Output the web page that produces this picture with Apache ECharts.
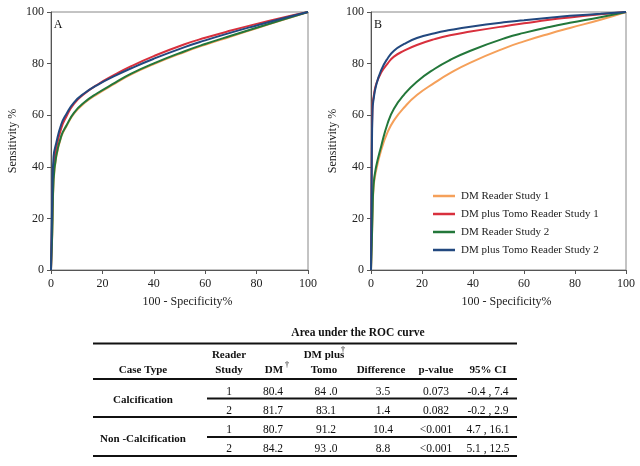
<!DOCTYPE html>
<html>
<head>
<meta charset="utf-8">
<script src="https://cdn.jsdelivr.net/npm/echarts@6/dist/echarts.min.js"></script>
<style>html,body{margin:0;padding:0;background:#fff}#c{width:640px;height:466px}</style>
</head>
<body>
<div id="c"></div>
<script>
// ---------- Data ----------
const seriesNames = ['DM Reader Study 1', 'DM plus Tomo Reader Study 1', 'DM Reader Study 2', 'DM plus Tomo Reader Study 2'];
const seriesColors = ['#F5A05A', '#D8303D', '#23773A', '#22487F'];
const axisTicks = [0, 20, 40, 60, 80, 100];

// Panel A (Calcification): 100 - specificity (%) and sensitivity (%)
const fprA = [0, 0.5, 1, 2, 4, 6, 9, 13, 18, 25, 31, 40, 52, 60, 70, 80, 90, 100];
const dmStudy1A     = [0, 14, 34, 43.6, 51.7, 55.7, 60.7, 64.7, 68.2, 72.3, 75.7, 79.8, 84.5, 87.3, 90.5, 93.7, 96.9, 100];
const dmTomoStudy1A = [0, 22, 40, 47, 55, 59.5, 64.5, 68.3, 71.8, 75.8, 78.9, 82.9, 87.5, 90, 92.8, 95.4, 97.8, 100];
const dmStudy2A     = [0, 15, 35, 44, 52, 56, 61, 65, 68.5, 72.6, 76, 80.1, 84.8, 87.6, 90.8, 93.9, 97, 100];
const dmTomoStudy2A = [0, 30, 44, 49, 56.5, 60.5, 65, 68.5, 71.7, 75.3, 78.1, 81.9, 86.4, 89, 92, 94.8, 97.5, 100];

// Panel B (Non-calcification)
const fprB = [0, 0.3, 0.6, 1, 2, 4, 6.5, 9, 13, 18, 25, 31, 39, 53, 60, 70, 78, 90, 100];
const dmStudy1B     = [0, 10, 21, 32, 38.5, 46.5, 53.4, 58, 63, 67.8, 72.6, 76.3, 80.4, 86.2, 88.6, 91.6, 93.8, 97, 100];
const dmTomoStudy1B = [0, 45, 64, 67, 72, 76.5, 80, 82.7, 85, 87.2, 89.5, 91, 92.4, 94.6, 95.6, 97, 97.9, 99.1, 100];
const dmStudy2B     = [0, 10, 22, 33, 40, 48, 56.8, 62.5, 68, 73, 78, 81.4, 85, 90, 91.9, 94.2, 95.8, 98, 100];
const dmTomoStudy2B = [0, 40, 62, 66, 71.5, 77.5, 82, 85, 87.6, 89.9, 91.8, 93, 94.3, 96.1, 96.8, 97.8, 98.5, 99.3, 100];

// Table: Area under the ROC curve
const caseTypes = ['Calcification', 'Non -Calcification'];
const readerStudy = ['1', '2', '1', '2'];
const aucDM = ['80.4', '81.7', '80.7', '84.2'];
const aucDMTomo = ['84 .0', '83.1', '91.2', '93 .0'];
const aucDifference = ['3.5', '1.4', '10.4', '8.8'];
const pValues = ['0.073', '0.082', '<0.001', '<0.001'];
const ci95 = ['-0.4 , 7.4', '-0.2 , 2.9', '4.7 , 16.1', '5.1 , 12.5'];

// ---------- Chart ----------
const FONT = '"Liberation Serif", "DejaVu Serif", serif';
const chart = echarts.init(document.getElementById('c'), null, {renderer: 'canvas'});

function pairs(xs, ys) { return xs.map((x, i) => [x, ys[i]]); }

const panelA = [dmStudy1A, dmTomoStudy1A, dmStudy2A, dmTomoStudy2A];
const panelB = [dmStudy1B, dmTomoStudy1B, dmStudy2B, dmTomoStudy2B];

const series = [];
[[fprA, panelA, 0], [fprB, panelB, 1]].forEach(([xs, ys, gi]) => {
  ys.forEach((arr, k) => {
    series.push({
      type: 'line', name: seriesNames[k], xAxisIndex: gi, yAxisIndex: gi,
      data: pairs(xs, arr), symbol: 'none', showSymbol: false, smooth: 0.5,
      lineStyle: {width: 2, color: seriesColors[k]}, itemStyle: {color: seriesColors[k]},
      animation: false, silent: true
    });
  });
});

function xAx(gi) {
  return {
    gridIndex: gi, type: 'value', min: axisTicks[0], max: axisTicks[axisTicks.length - 1], interval: 20,
    name: '100 - Specificity%', nameLocation: 'middle', nameGap: 26,
    nameTextStyle: {fontFamily: FONT, fontSize: 12, color: '#222', padding: [0, 0, 0, 16]},
    axisLine: {lineStyle: {color: '#555', width: 1}},
    axisTick: {show: true, length: 4, lineStyle: {color: '#555'}},
    axisLabel: {fontFamily: FONT, fontSize: 12, color: '#222', margin: 8},
    splitLine: {show: false}
  };
}
function yAx(gi) {
  return {
    gridIndex: gi, type: 'value', min: axisTicks[0], max: axisTicks[axisTicks.length - 1], interval: 20,
    name: 'Sensitivity %', nameLocation: 'middle', nameGap: 32, nameRotate: 90,
    nameTextStyle: {fontFamily: FONT, fontSize: 12, color: '#222'},
    axisLine: {show: true, lineStyle: {color: '#555', width: 1}},
    axisTick: {show: true, length: 4, lineStyle: {color: '#555'}},
    axisLabel: {fontFamily: FONT, fontSize: 12, color: '#222', margin: 7},
    splitLine: {show: false}
  };
}

// table graphics
const g = [];
const tFont = (w, s) => ({fontFamily: FONT, fontSize: s, fontWeight: w, fill: '#111'});
function txt(t, x, y, w, s, align) {
  g.push({type: 'text', silent: true, style: Object.assign({text: t, x: x, y: y, align: align || 'center', verticalAlign: 'middle'}, tFont(w, s))});
}
function hline(x1, x2, y, lw) {
  g.push({type: 'line', silent: true, shape: {x1: x1, y1: y, x2: x2, y2: y}, style: {stroke: '#111', lineWidth: lw || 2}});
}
// panel letters
txt('A', 58, 25, 'normal', 12, 'center');
txt('B', 378, 25, 'normal', 12, 'center');

const L = 93, R = 517, RS = 207;
txt('Area under the ROC curve', 358, 333, 'bold', 11.5);
hline(L, R, 343.5);
const headY1 = 355, headY2 = 370;
txt('Case Type', 143, headY2, 'bold', 11);
txt('Reader', 229, headY1, 'bold', 11);
txt('Study', 229, headY2, 'bold', 11);
txt('DM', 274, headY2, 'bold', 11);
txt('\u2020', 287, headY2 - 5, 'normal', 9);
txt('DM plus', 324, headY1, 'bold', 11);
txt('\u2020', 343, headY1 - 5, 'normal', 9);
txt('Tomo', 324, headY2, 'bold', 11);
txt('Difference', 381, headY2, 'bold', 11);
txt('p-value', 436, headY2, 'bold', 11);
txt('95% CI', 488, headY2, 'bold', 11);
hline(L, R, 379);
const rowY = [391.5, 410.5, 430, 449];
const colX = [229, 273, 326, 383, 436, 488];
rowY.forEach((y, i) => {
  txt(readerStudy[i], colX[0], y, 'normal', 11.5);
  txt(aucDM[i], colX[1], y, 'normal', 11.5);
  txt(aucDMTomo[i], colX[2], y, 'normal', 11.5);
  txt(aucDifference[i], colX[3], y, 'normal', 11.5);
  txt(pValues[i], colX[4], y, 'normal', 11.5);
  txt(ci95[i], colX[5], y, 'normal', 11.5);
});
txt(caseTypes[0], 143, 400, 'bold', 11);
txt(caseTypes[1], 143, 439, 'bold', 11);
hline(RS, R, 398.5);
hline(L, R, 417);
hline(RS, R, 437);
hline(L, R, 456);

chart.setOption({
  animation: false,
  backgroundColor: '#fff',
  grid: [
    {left: 51, top: 12, width: 257, height: 258, show: true, borderColor: '#888', borderWidth: 1, backgroundColor: 'transparent'},
    {left: 371, top: 12, width: 255, height: 258, show: true, borderColor: '#888', borderWidth: 1, backgroundColor: 'transparent'}
  ],
  xAxis: [xAx(0), xAx(1)],
  yAxis: [yAx(0), yAx(1)],
  legend: {
    data: seriesNames, orient: 'vertical', left: 428, top: 184,
    icon: 'rect', itemWidth: 22, itemHeight: 2.5, itemGap: 4,
    textStyle: {fontFamily: FONT, fontSize: 11, color: '#222', lineHeight: 14, padding: [0, 0, 0, 1]},
    selectedMode: false
  },
  series: series,
  graphic: g
});
</script>
</body>
</html>
